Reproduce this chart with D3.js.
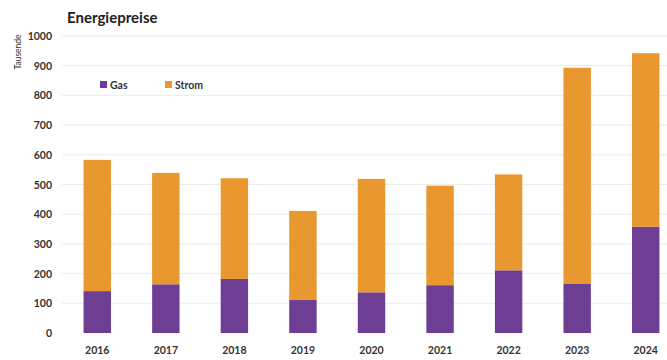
<!DOCTYPE html>
<html lang="de">
<head>
    <meta charset="UTF-8">
    <title>Energiepreise</title>
    <script src="https://d3js.org/d3.v7.min.js"></script>
    <style>
        body { margin: 0; background: #fff; }
        text { font-family: Lato, "Open Sans", sans-serif; }
    </style>
</head>
<body>
<svg id="svg" width="667" height="360"></svg>
<script>
    const years = ["2016", "2017", "2018", "2019", "2020", "2021", "2022", "2023", "2024"];
    const gas = [141, 164, 182, 111, 137, 161, 211, 165, 358];
    const strom = [442, 375, 339, 300, 382, 335, 323, 728, 584];
    const yTicks = [0, 100, 200, 300, 400, 500, 600, 700, 800, 900, 1000];
    const seriesNames = ["Gas", "Strom"];
    const colors = ["#6e3e94", "#e8982f"];

    const svg = d3.select("svg");
    const width = +svg.attr("width");

    const x = d3.scaleBand().domain(years).range([63, 680]).paddingInner(0.6).paddingOuter(0.3);
    const y = d3.scaleLinear().domain([0, 1000]).range([333, 36]);

    // gridlines
    svg.append("g").selectAll("line")
        .data(yTicks.slice(1))
        .enter().append("line")
        .attr("x1", 62).attr("x2", width)
        .attr("y1", d => y(d)).attr("y2", d => y(d))
        .attr("stroke", "#ececec").attr("stroke-width", 1);

    // y tick labels
    svg.append("g").selectAll("text")
        .data(yTicks)
        .enter().append("text")
        .attr("x", 52).attr("y", d => y(d) + 4)
        .attr("text-anchor", "end")
        .attr("font-size", 10.5).attr("font-weight", "bold").attr("fill", "#333")
        .text(d => d);

    // stacked bars
    const rows = years.map((yr, i) => ({ year: yr, Gas: gas[i], Strom: strom[i] }));
    const stack = d3.stack().keys(seriesNames)(rows);

    svg.append("g").selectAll("g")
        .data(stack)
        .enter().append("g")
        .attr("fill", (d, i) => colors[i])
        .selectAll("rect")
        .data(d => d)
        .enter().append("rect")
        .attr("x", d => x(d.data.year))
        .attr("width", x.bandwidth())
        .attr("y", d => y(d[1]))
        .attr("height", d => y(d[0]) - y(d[1]));

    // x labels
    svg.append("g").selectAll("text")
        .data(years)
        .enter().append("text")
        .attr("x", d => x(d) + x.bandwidth() / 2).attr("y", 354)
        .attr("text-anchor", "middle")
        .attr("font-size", 10.5).attr("font-weight", "bold").attr("fill", "#333")
        .text(d => d);

    // title
    svg.append("text")
        .attr("x", 67).attr("y", 23)
        .attr("font-size", 15).attr("font-weight", "bold").attr("fill", "#222")
        .text("Energiepreise");

    // y axis title
    svg.append("text")
        .attr("transform", "translate(21,52) rotate(-90)")
        .attr("text-anchor", "middle")
        .attr("font-size", 8.5).attr("fill", "#333")
        .text("Tausende");

    // legend
    const legendX = [100, 165];
    const legend = svg.append("g").selectAll("g")
        .data(seriesNames)
        .enter().append("g")
        .attr("transform", (d, i) => `translate(${legendX[i]},81)`);
    legend.append("rect")
        .attr("width", 7).attr("height", 7)
        .attr("fill", (d, i) => colors[i]);
    legend.append("text")
        .attr("x", 10).attr("y", 7.5)
        .attr("font-size", 10.5).attr("font-weight", "bold").attr("fill", "#333")
        .text(d => d);
</script>
</body>
</html>
